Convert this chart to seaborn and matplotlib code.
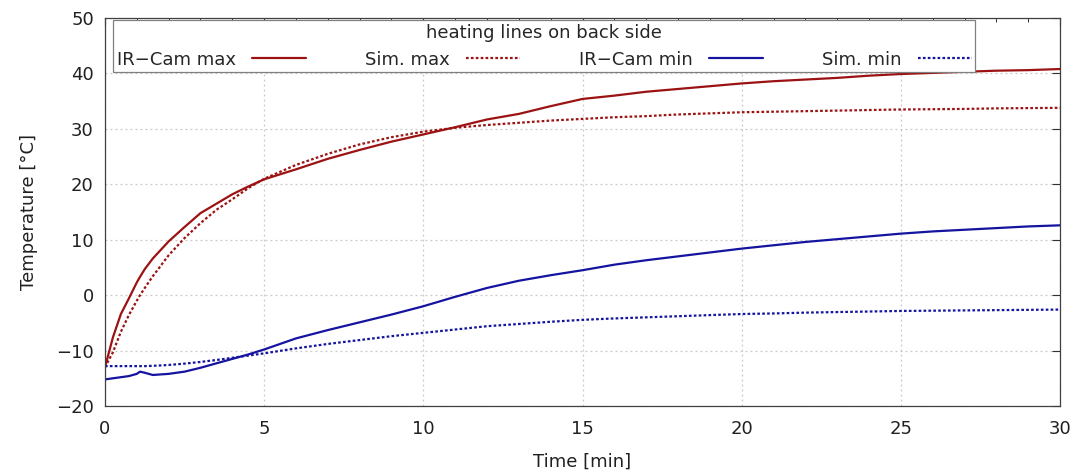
import numpy as np
import pandas as pd
import seaborn as sns
import matplotlib.pyplot as plt
from matplotlib.ticker import MultipleLocator

# time axis (minutes) shared by all four curves
time_min = [0, 0.25, 0.5, 0.75, 1.0, 1.1, 1.25, 1.5, 2.0, 2.5, 3.0, 3.5, 4.0, 4.5,
            5, 6, 7, 8, 9, 10, 11, 12, 13, 14, 15, 16, 17, 18, 19, 20,
            21, 22, 23, 24, 25, 26, 27, 28, 29, 30]

ir_max = [-13.0, -7.6, -3.4, -0.6, 2.3, 3.3, 4.7, 6.6, 9.7, 12.3, 14.8, 16.5, 18.2, 19.6,
          20.9, 22.7, 24.6, 26.2, 27.7, 29.0, 30.3, 31.7, 32.7, 34.1, 35.4, 36.0, 36.7, 37.2, 37.7, 38.2,
          38.6, 38.9, 39.2, 39.6, 39.9, 40.1, 40.3, 40.5, 40.6, 40.8]

sim_max = [-13.0, -10.3, -6.6, -3.6, -1.0, 0.0, 1.3, 3.4, 7.2, 10.3, 13.0, 15.4, 17.3, 19.3,
           21.0, 23.5, 25.5, 27.2, 28.5, 29.5, 30.2, 30.7, 31.1, 31.5, 31.8, 32.1, 32.3, 32.6, 32.8, 33.0,
           33.1, 33.2, 33.3, 33.4, 33.5, 33.55, 33.6, 33.7, 33.75, 33.8]

ir_min = [-15.2, -15.0, -14.8, -14.6, -14.2, -13.8, -14.0, -14.4, -14.2, -13.8, -13.1, -12.3, -11.5, -10.7,
          -9.8, -7.8, -6.3, -4.9, -3.5, -2.0, -0.3, 1.3, 2.6, 3.6, 4.5, 5.5, 6.3, 7.0, 7.7, 8.4,
          9.0, 9.6, 10.1, 10.6, 11.1, 11.5, 11.8, 12.1, 12.4, 12.6]

sim_min = [-12.8, -12.8, -12.8, -12.8, -12.8, -12.8, -12.8, -12.75, -12.6, -12.35, -12.05, -11.7, -11.3, -10.9,
           -10.5, -9.6, -8.8, -8.1, -7.4, -6.8, -6.2, -5.6, -5.2, -4.8, -4.45, -4.2, -4.0, -3.8, -3.6, -3.4,
           -3.3, -3.15, -3.05, -2.95, -2.85, -2.8, -2.75, -2.7, -2.65, -2.6]

labels = ["IR\u2212Cam max", "Sim. max", "IR\u2212Cam min", "Sim. min"]
colors = ["#9c1212", "#9c1212", "#1414a0", "#1414a0"]

df = pd.concat([
    pd.DataFrame({"time": time_min, "temp": vals, "series": lab})
    for lab, vals in zip(labels, [ir_max, sim_max, ir_min, sim_min])
])

sns.set_theme(style="white")
plt.rcParams["font.family"] = ["DejaVu Sans"]

fig = plt.figure(figsize=(10.89, 4.72), dpi=100)
ax = fig.add_axes([0.0964, 0.1398, 0.877, 0.822])

sns.lineplot(data=df, x="time", y="temp", hue="series", style="series",
             hue_order=labels, style_order=labels,
             palette=dict(zip(labels, colors)),
             dashes={labels[0]: "", labels[1]: (1.2, 1.0), labels[2]: "", labels[3]: (1.2, 1.0)},
             linewidth=1.6, sort=False, legend=False, ax=ax)

ax.set_xlim(0, 30)
ax.set_ylim(-20, 50)
ax.xaxis.set_major_locator(MultipleLocator(5))
ax.xaxis.set_minor_locator(MultipleLocator(1))
ax.yaxis.set_major_locator(MultipleLocator(10))

ax.grid(True, which="major", color="#c8c8c8", linestyle=(0, (1.5, 2.5)), linewidth=0.9)
ax.tick_params(which="both", direction="in", top=True, right=True, colors="#303030",
               labelcolor="#202020", labelsize=13)
ax.tick_params(which="major", length=6, width=0.8)
ax.tick_params(which="minor", length=3, width=0.7)
ax.tick_params(axis="x", pad=10)
ax.tick_params(axis="y", pad=8)
for sp in ax.spines.values():
    sp.set_color("#404040")
    sp.set_linewidth(0.9)

ax.set_xlabel("Time [min]", fontsize=13, labelpad=11, color="#202020")
ax.set_ylabel("Temperature [\u00b0C]", fontsize=13, labelpad=13, color="#202020")

leg = ax.legend(handles=ax.lines[:4], labels=labels, title="heating lines on back side",
                loc="upper left", bbox_to_anchor=(0.0084, 0.0, 0.903, 0.9948),
                mode="expand", ncol=4, markerfirst=False, handlelength=3.0,
                handletextpad=0.9, fontsize=13, title_fontsize=13,
                fancybox=False, framealpha=1, edgecolor="#808080",
                borderpad=0.2, borderaxespad=0)
leg.get_frame().set_linewidth(0.9)

plt.savefig("out.png", dpi=100)
